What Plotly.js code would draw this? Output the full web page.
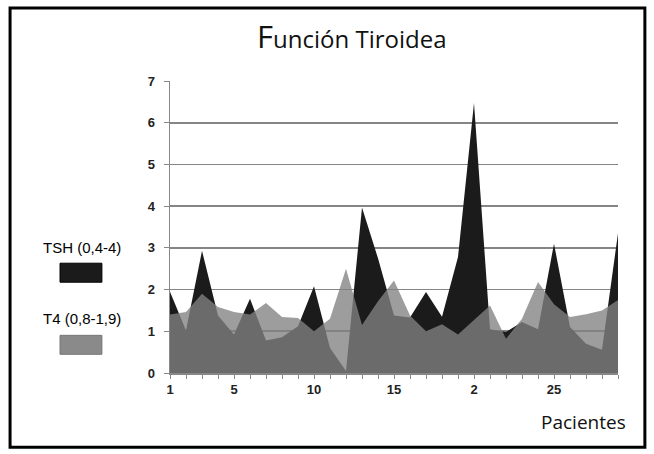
<!DOCTYPE html>
<html>
<head>
<meta charset="utf-8">
<script src="https://cdn.plot.ly/plotly-3.0.1.min.js"></script>
<style>html,body{margin:0;padding:0;background:#fff;}#chart{width:654px;height:454px;}</style>
</head>
<body>
<div id="chart"></div>
<script>
var pacientes = [1,2,3,4,5,6,7,8,9,10,11,12,13,14,15,16,17,18,19,20,21,22,23,24,25,26,27,28,29];
var tsh = [1.95,1.02,2.93,1.38,0.92,1.78,0.78,0.86,1.12,2.08,0.6,0.05,3.97,2.75,1.38,1.33,1.94,1.35,2.78,6.47,1.05,0.98,1.22,1.05,3.1,1.1,0.7,0.56,3.35];
var t4 = [1.4,1.46,1.9,1.58,1.46,1.4,1.68,1.34,1.32,1.0,1.3,2.5,1.15,1.72,2.22,1.38,1.0,1.17,0.92,1.26,1.62,0.82,1.3,2.18,1.65,1.34,1.41,1.5,1.75];
var xTickText = ['1','','','','5','','','','','10','','','','','15','','','','','2','','','','','25','','','',''];
var yTickVals = [0,1,2,3,4,5,6,7];
var seriesNames = ['TSH (0,4-4)', 'T4 (0,8-1,9)'];
var titleText = '<span style="font-size:31px">F</span>unción Tiroidea';
var xTitle = 'Pacientes';

var traces = [
  {x: pacientes, y: tsh, name: seriesNames[0], type: 'scatter', mode: 'lines',
   line: {width: 0, color: '#1a1a1a'}, fill: 'tozeroy', fillcolor: '#1b1b1b', hoverinfo: 'x+y'},
  {x: pacientes, y: t4, name: seriesNames[1], type: 'scatter', mode: 'lines',
   line: {width: 0, color: '#888'}, fill: 'tozeroy', fillcolor: 'rgba(130,130,130,0.78)', hoverinfo: 'x+y'}
];

var tickFont = {family: 'Liberation Sans, Arial, sans-serif', size: 13, color: '#222', weight: 'bold'};

var layout = {
  width: 654, height: 454,
  margin: {l: 170, r: 36, t: 81, b: 81.3},
  paper_bgcolor: '#ffffff', plot_bgcolor: '#ffffff',
  showlegend: false,
  title: {text: titleText, x: 0.538, xref: 'container', xanchor: 'center', y: 0.912, yref: 'container', yanchor: 'middle',
          font: {family: 'Open Sans, sans-serif', size: 24, color: '#111'}},
  xaxis: {range: [1, 29], tickmode: 'array', tickvals: pacientes, ticktext: xTickText,
          ticks: 'outside', ticklen: 4, tickcolor: '#888', tickwidth: 1,
          showline: true, linecolor: '#888', linewidth: 1.5, showgrid: false, zeroline: false,
          tickfont: tickFont, fixedrange: true},
  yaxis: {range: [0, 7], tickmode: 'array', tickvals: yTickVals,
          ticks: 'outside', ticklen: 5, tickcolor: '#888', tickwidth: 1, ticklabelstandoff: 6,
          showline: true, linecolor: '#888', linewidth: 1.5,
          showgrid: true, gridcolor: '#858585', gridwidth: 1.6, zeroline: false,
          tickfont: tickFont, fixedrange: true},
  shapes: [
    {type: 'rect', xref: 'paper', yref: 'paper', x0: -0.357, x1: 1.060, y0: -0.2547, y1: 1.250,
     line: {color: '#000', width: 3}, fillcolor: 'rgba(0,0,0,0)'},
    {type: 'rect', xref: 'paper', yref: 'paper', x0: -0.2455, x1: -0.152, y0: 0.311, y1: 0.376,
     line: {color: '#000', width: 1}, fillcolor: '#1b1b1b'},
    {type: 'rect', xref: 'paper', yref: 'paper', x0: -0.2455, x1: -0.152, y0: 0.064, y1: 0.129,
     line: {color: '#777', width: 1}, fillcolor: '#8a8a8a'}
  ],
  annotations: [
    {text: seriesNames[0], xref: 'paper', yref: 'paper', x: -0.196, y: 0.431, xanchor: 'center', yanchor: 'middle',
     showarrow: false, font: {family: 'Liberation Sans, Arial, sans-serif', size: 15, color: '#000'}},
    {text: seriesNames[1], xref: 'paper', yref: 'paper', x: -0.196, y: 0.1875, xanchor: 'center', yanchor: 'middle',
     showarrow: false, font: {family: 'Liberation Sans, Arial, sans-serif', size: 15, color: '#000'}},
    {text: xTitle, xref: 'paper', yref: 'paper', x: 0.924, y: -0.169, xanchor: 'center', yanchor: 'middle',
     showarrow: false, font: {family: 'Open Sans, sans-serif', size: 19, color: '#111'}}
  ]
};

Plotly.newPlot('chart', traces, layout, {displayModeBar: false, staticPlot: true});
</script>
</body>
</html>
